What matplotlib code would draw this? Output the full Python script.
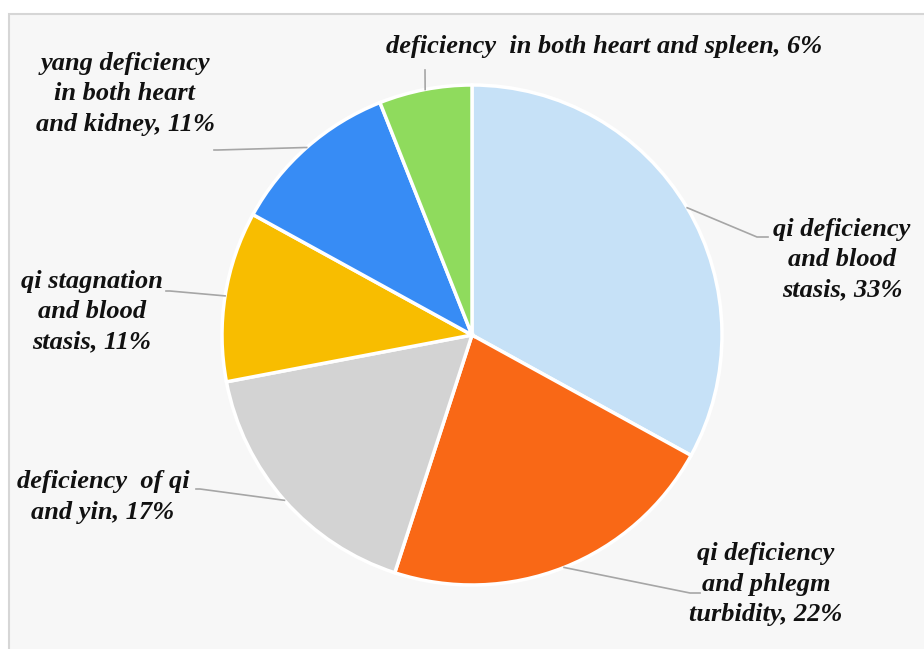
import numpy as np
import matplotlib.pyplot as plt
from matplotlib.patches import Rectangle

# datos del grafico
labels = ['qi deficiency\nand blood\nstasis, 33%',
          'qi deficiency\nand phlegm\nturbidity, 22%',
          'deficiency  of qi\nand yin, 17%',
          'qi stagnation\nand blood\nstasis, 11%',
          'yang deficiency\nin both heart\nand kidney, 11%',
          'deficiency  in both heart and spleen, 6%']
values = [33, 22, 17, 11, 11, 6]
colors = ['#c6e1f7', '#f96816', '#d3d3d3', '#f8bd00', '#378cf5', '#8fdb5d']

# posiciones de las etiquetas (pixeles, y hacia arriba)
label_xy = [(842, 389), (766, 65), (103, 152), (92, 337), (125, 555), (604, 602)]
line_end = [[(757, 412), (768, 412)], [(690, 56), (700, 56)], [(200, 160), (196, 160)],
            [(170, 358), (166, 358)], [(218, 499), (214, 499)], [(425, 579), (425, 579)]]

W, H = 924, 649
cx, cy, r = 472, 314, 250

fig = plt.figure(figsize=(W / 100, H / 100), dpi=100)
fig.patch.set_facecolor('white')
ax = fig.add_axes([0, 0, 1, 1])

ax.add_patch(Rectangle((9, -10), W, H - 14 + 10, facecolor='#f7f7f7',
                       edgecolor='#d6d6d6', lw=1.5, zorder=0))

ax.pie(values, colors=colors, startangle=90, counterclock=False,
       center=(cx, cy), radius=r, frame=True,
       wedgeprops=dict(edgecolor='white', linewidth=2.5))
ax.set_xlim(0, W)
ax.set_ylim(0, H)
ax.set_aspect('equal')
ax.axis('off')

# lineas guia desde el punto medio de cada sector
frac = np.cumsum([0] + values) / sum(values)
for i, lab in enumerate(labels):
    mid = 90 - 360 * (frac[i] + frac[i + 1]) / 2
    px = cx + r * np.cos(np.radians(mid))
    py = cy + r * np.sin(np.radians(mid))
    pts = [(px, py)] + line_end[i]
    xs, ys = zip(*pts)
    ax.plot(xs, ys, color='#a6a6a6', lw=1.2, zorder=1)
    ax.text(label_xy[i][0], label_xy[i][1], lab, ha='center', va='center',
            multialignment='center', fontsize=19, family='Liberation Serif',
            weight='bold', style='italic', linespacing=1.4, color='#111111')

fig.savefig('out.png', dpi=100, facecolor='white')
